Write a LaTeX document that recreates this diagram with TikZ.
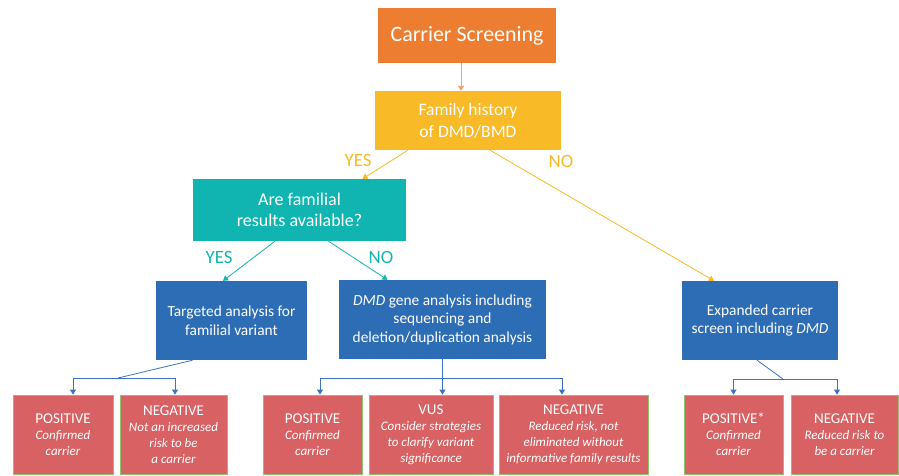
\documentclass[tikz,border=0pt]{standalone}
\usepackage{fontspec}
\setmainfont{Carlito}
\usetikzlibrary{arrows.meta,calc}
\definecolor{corange}{HTML}{ED7D31}
\definecolor{cgold}{HTML}{F8BA26}
\definecolor{cteal}{HTML}{10B5B1}
\definecolor{cblue}{HTML}{2C6DB5}
\definecolor{cred}{HTML}{D76163}
\definecolor{cgreen}{HTML}{8DC36B}
\definecolor{ctree}{HTML}{3C72C0}
\newcommand{\hd}[1]{{\fontsize{15}{16}\selectfont #1}}
\tikzset{
  box/.style={inner sep=2pt, text=white, align=center, font=\fontsize{15.4}{18.5}\selectfont},
  res/.style={box, draw=cgreen, line width=0.8pt, fill=cred, minimum width=#1, minimum height=79pt, font=\fontsize{13}{16}\selectfont\itshape},
  lab/.style={font=\fontsize{18.8}{20}\selectfont},
  tip/.style={-{Triangle[length=5pt,width=6pt]}},
  tree/.style={draw=ctree, line width=0.8pt},
}
\begin{document}
\begin{tikzpicture}[x=1pt,y=-1pt]
\useasboundingbox (0,0) rectangle (899,475);
\node[box, fill=corange, minimum width=178pt, minimum height=55pt, font=\fontsize{21.9}{24}\selectfont] (cs) at (467,35.5) {\raisebox{-2.5pt}{Carrier Screening}};
\node[box, fill=cgold, minimum width=186pt, minimum height=59pt, font=\fontsize{17.5}{21.7}\selectfont] (fh) at (468,120.5) {Family history\\of DMD/BMD};
\node[box, fill=cteal, minimum width=213pt, minimum height=62pt, font=\fontsize{18}{21}\selectfont] (fr) at (299.5,210) {Are familial\\results available?};
\node[box, fill=cblue, minimum width=151pt, minimum height=79pt] (ta) at (231.5,320.5) {Targeted analysis for\\familial variant};
\node[box, fill=cblue, minimum width=207pt, minimum height=79pt] (ga) at (442.5,319.5) {\textit{DMD} gene analysis including\\sequencing and\\deletion/duplication analysis};
\node[box, fill=cblue, minimum width=156pt, minimum height=79pt] (ex) at (760,320.5) {Expanded carrier\\screen including \textit{DMD}};

\node[res=100pt] (p1) at (63,434.5) {\hd{\upshape POSITIVE}\\Confirmed\\carrier};
\node[res=107pt] (n1) at (173.5,434.5) {\hd{\upshape NEGATIVE}\\Not an increased\\risk to be\\a carrier};
\node[res=99pt] (p2) at (312.5,434.5) {\hd{\upshape POSITIVE}\\Confirmed\\carrier};
\node[res=124pt] (vus) at (431,434.5) {\hd{\upshape VUS}\\Consider strategies\\to clarify variant\\significance};
\node[res=149pt] (n2) at (573.5,434.5) {\hd{\upshape NEGATIVE}\\Reduced risk, not\\eliminated without\\informative family results};
\node[res=99pt] (p3) at (733.5,434.5) {\hd{\upshape POSITIVE*}\\Confirmed\\carrier};
\node[res=107pt] (n3) at (844.5,434.5) {\hd{\upshape NEGATIVE}\\Reduced risk to\\be a carrier};

% top arrows
\draw[tip, draw=corange!70, line width=0.8pt] ([xshift=-6pt]cs.south) -- ([xshift=-7pt]fh.north);
\draw[tip, draw=cgold, line width=0.8pt] ([xshift=-60pt]fh.south) -- ([xshift=63pt]fr.north);
\draw[tip, draw=cgold, line width=0.8pt] ([xshift=22pt]fh.south) -- ([xshift=-46pt]ex.north);
\node[lab, text=cgold] (yes1) at (358,160) {YES};
\node[lab, text=cgold] (no1) at (561,161) {NO};

\draw[tip, draw=cteal, line width=0.8pt] ([xshift=-24.5pt]fr.south) -- ([xshift=-8.5pt]ta.north);
\draw[tip, draw=cteal, line width=0.8pt] ([xshift=29pt]fr.south) -- ([xshift=-55pt]ga.north);
\node[lab, text=cteal] (yes2) at (219,257) {YES};
\node[lab, text=cteal] (no2) at (381,257) {NO};

% tree 1
\coordinate (j1) at (118,378);
\draw[tree] ([xshift=-39pt]ta.south) -- (j1);
\draw[tree, tip] (j1) -| ([xshift=10pt]p1.north);
\draw[tree, tip] (j1) -| ([xshift=1.5pt]n1.north);
% tree 2
\coordinate (j2) at (442.5,378);
\draw[tree] (ga.south) -- (j2);
\draw[tree, tip] (j2) -| ([xshift=7.5pt]p2.north);
\draw[tree, tip] (j2) -| ([xshift=11.5pt]vus.north);
\draw[tree, tip] (j2) -| ([xshift=-11.5pt]n2.north);
% tree 3
\coordinate (j3) at (783,379);
\draw[tree] ([xshift=-3pt]ex.south) -- (j3);
\draw[tree, tip] (j3) -| (p3.north);
\draw[tree, tip] (j3) -| ([xshift=-7.5pt]n3.north);
\end{tikzpicture}
\end{document}
